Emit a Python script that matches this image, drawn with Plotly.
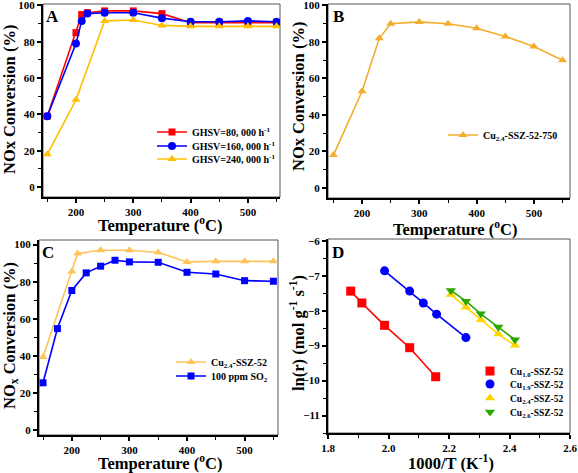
import plotly.graph_objects as go

# ---------- Data ----------
# Panel A
a_red_x = [150, 200, 210, 220, 250, 300, 350, 400, 450, 500, 550]
a_red_y = [39, 85, 95, 96, 97, 97, 95.5, 90.5, 90.5, 90.5, 90.5]
a_blue_x = [150, 200, 210, 220, 250, 300, 350, 400, 450, 500, 550]
a_blue_y = [39, 79, 91.5, 95.5, 96, 96, 93, 91, 91, 91.5, 91]
a_yel_x = [150, 200, 250, 300, 350, 400, 450, 500, 550]
a_yel_y = [18, 48, 91.5, 92, 89, 88.5, 88.5, 88.5, 88.5]
a_names = ["GHSV=80, 000 h<sup>-1</sup>", "GHSV=160, 000 h<sup>-1</sup>", "GHSV=240, 000 h<sup>-1</sup>"]

# Panel B
b_x = [150, 200, 230, 250, 300, 350, 400, 450, 500, 550]
b_y = [18, 53, 82, 90, 91, 90, 87.5, 83, 77.5, 70]
b_name = "Cu<sub>2.4</sub>-SSZ-52-750"

# Panel C
c_yel_x = [150, 200, 210, 250, 300, 350, 400, 450, 500, 550]
c_yel_y = [39.5, 85.5, 95.2, 97, 97, 95.8, 90.7, 91, 91, 91]
c_blue_x = [150, 175, 200, 225, 250, 275, 300, 350, 400, 450, 500, 550]
c_blue_y = [25.6, 54.8, 75.3, 84.8, 88.4, 91.6, 90.7, 90.5, 85.1, 84.2, 80.6, 80.3]
c_names = ["Cu<sub>2.4</sub>-SSZ-52", "100 ppm SO<sub>2</sub>"]

# Panel D
d_x1 = [1.875, 1.912, 1.987, 2.07, 2.156]
d_y1 = [-7.44, -7.78, -8.42, -9.06, -9.89]
d_x2 = [1.987, 2.07, 2.115, 2.159, 2.256]
d_y2 = [-6.86, -7.44, -7.78, -8.10, -8.77]
d_x3 = [2.206, 2.256, 2.305, 2.363, 2.418]
d_y3 = [-7.54, -7.90, -8.26, -8.67, -8.99]
d_x4 = [2.206, 2.256, 2.305, 2.363, 2.418]
d_y4 = [-7.42, -7.73, -8.09, -8.47, -8.83]
d_names = ["Cu<sub>1.0</sub>-SSZ-52", "Cu<sub>1.9</sub>-SSZ-52", "Cu<sub>2.4</sub>-SSZ-52", "Cu<sub>2.6</sub>-SSZ-52"]

x_titles = ["Temperature (<sup>o</sup>C)", "Temperature (<sup>o</sup>C)",
            "Temperature (<sup>o</sup>C)", "1000/T (K<sup>-1</sup>)"]
y_titles = ["NOx Conversion (%)", "NOx Conversion (%)",
            "NO<sub>x</sub> Conversion (%)", "ln(r) (mol g<sup>-1</sup> s<sup>-1</sup>)"]
panel_letters = ["A", "B", "C", "D"]

RED = "#ff0000"
BLUE = "#0000ff"
YEL = "#ffc000"
ORANGE = "#f3ad2c"
LYEL = "#ffc35a"
DYEL = "#ffd400"
GREEN = "#2aa800"

FONT = "Liberation Serif"
W, H = 578, 473

def fx(a, b):
    return [a / W, b / W]

def fy(top, bottom):
    return [1 - bottom / H, 1 - top / H]

fig = go.Figure()
legend_defs = {}
leg_counter = [0]

def new_legend(text_x, row_y, size=10):
    leg_counter[0] += 1
    key = "legend" if leg_counter[0] == 1 else f"legend{leg_counter[0]}"
    off = 40
    legend_defs[key] = dict(x=(text_x - off) / W, y=1 - row_y / H, xanchor="left", yanchor="middle",
                            bgcolor="rgba(0,0,0,0)", itemwidth=30,
                            font=dict(family=FONT, size=size, color="black", weight="bold"))
    return key

def line_trace(x, y, name, color, symbol, xa, ya, leg, size=7):
    fig.add_trace(go.Scatter(x=x, y=y, name=name, mode="lines+markers",
                             line=dict(color=color, width=1.6),
                             marker=dict(color=color, symbol=symbol, size=size),
                             xaxis=xa, yaxis=ya, legend=leg))

# A
line_trace(a_red_x, a_red_y, a_names[0], RED, "square", "x", "y", new_legend(192, 132))
line_trace(a_blue_x, a_blue_y, a_names[1], BLUE, "circle", "x", "y", new_legend(192, 146), 8)
line_trace(a_yel_x, a_yel_y, a_names[2], YEL, "triangle-up", "x", "y", new_legend(192, 159), 8)
# B
line_trace(b_x, b_y, b_name, ORANGE, "triangle-up", "x2", "y2", new_legend(483, 135), 8)
# C
line_trace(c_yel_x, c_yel_y, c_names[0], LYEL, "triangle-up", "x3", "y3", new_legend(211, 362), 8)
line_trace(c_blue_x, c_blue_y, c_names[1], BLUE, "square", "x3", "y3", new_legend(211, 376), 7)
# D
d_rows = [371, 384, 398, 412]
for (xs, ys, nm, col, sym), ry in zip([(d_x1, d_y1, d_names[0], RED, "square"),
                                       (d_x2, d_y2, d_names[1], BLUE, "circle"),
                                       (d_x3, d_y3, d_names[2], DYEL, "triangle-up"),
                                       (d_x4, d_y4, d_names[3], GREEN, "triangle-down")], d_rows):
    fig.add_trace(go.Scatter(x=xs, y=ys, mode="lines", line=dict(color=col, width=1.6),
                             xaxis="x4", yaxis="y4", showlegend=False, hoverinfo="skip"))
    fig.add_trace(go.Scatter(x=xs, y=ys, name=nm, mode="markers",
                             marker=dict(color=col, symbol=sym, size=9),
                             xaxis="x4", yaxis="y4", legend=new_legend(510, ry, 9.5)))

tickfont = dict(family=FONT, size=11, color="black", weight="bold")
titlefont = dict(family=FONT, size=16.5, color="black", weight="bold")

def common(dom, rng, dtick, minor_dtick, anchor):
    return dict(domain=dom, range=rng, dtick=dtick, tick0=0, anchor=anchor, automargin=False,
                showline=True, linecolor="black", linewidth=2, mirror=False,
                ticks="outside", ticklen=4, tickwidth=1.5, tickcolor="black",
                minor=dict(dtick=minor_dtick, ticks="outside", ticklen=3, tickwidth=1.2, tickcolor="black"),
                showgrid=False, zeroline=False, tickfont=tickfont, ticklabeloverflow="allow")

dA = (fx(43, 280), fy(4, 197))
dB = (fx(328, 570), fy(4, 198))
dC = (fx(39, 278), fy(240, 435))
dD = (fx(328, 570), fy(239, 433))

xa4 = common(dD[0], [1.8, 2.6], 0.2, 0.1, "y4")
xa4["tickformat"] = ".1f"

fig.update_layout(
    width=W, height=H,
    margin=dict(l=0, r=0, t=0, b=0),
    paper_bgcolor="white", plot_bgcolor="white",
    font=dict(family=FONT, color="black"),
    xaxis=common(dA[0], [142.5, 556], 100, 50, "y"),
    yaxis=common(dA[1], [-5.5, 100.8], 20, 10, "x"),
    xaxis2=common(dB[0], [140.5, 563], 100, 50, "y2"),
    yaxis2=common(dB[1], [-5.5, 100.8], 20, 10, "x2"),
    xaxis3=common(dC[0], [143, 558], 100, 50, "y3"),
    yaxis3=common(dC[1], [-2.5, 102.5], 20, 10, "x3"),
    xaxis4=xa4,
    yaxis4=common(dD[1], [-11.5, -5.95], 1, 0.5, "x4"),
    showlegend=True,
    **legend_defs,
)

# thin frame (top/right) for each panel
for xr, yr in [("x", "y"), ("x2", "y2"), ("x3", "y3"), ("x4", "y4")]:
    fig.add_shape(type="rect", xref=f"{xr} domain", yref=f"{yr} domain", x0=0, x1=1, y0=0, y1=1,
                  line=dict(color="#555555", width=1), layer="below")

# axis titles
x_title_pos = [(160, 224.5), (455, 228), (160, 462), (451, 462)]
y_title_pos = [(10, 100), (298, 97), (10, 336), (297, 333)]
for t, (px, py) in zip(x_titles, x_title_pos):
    fig.add_annotation(text=t, x=px / W, y=1 - py / H, xref="paper", yref="paper", showarrow=False,
                       font=titlefont, xanchor="center", yanchor="middle")
for t, (px, py) in zip(y_titles, y_title_pos):
    fig.add_annotation(text=t, x=px / W, y=1 - py / H, xref="paper", yref="paper", showarrow=False,
                       font=titlefont, xanchor="center", yanchor="middle", textangle=-90)

for letter, (px, py) in zip(panel_letters, [(52, 16), (338, 17), (48, 253), (338, 252)]):
    fig.add_annotation(text=letter, x=px / W, y=1 - py / H, xref="paper", yref="paper",
                       showarrow=False, font=dict(family=FONT, size=17, color="black", weight="bold"),
                       xanchor="center", yanchor="middle")

fig.write_html("out.html", config={"displayModeBar": False},
               post_script="document.body.style.margin='0';document.body.style.overflow='hidden';")
